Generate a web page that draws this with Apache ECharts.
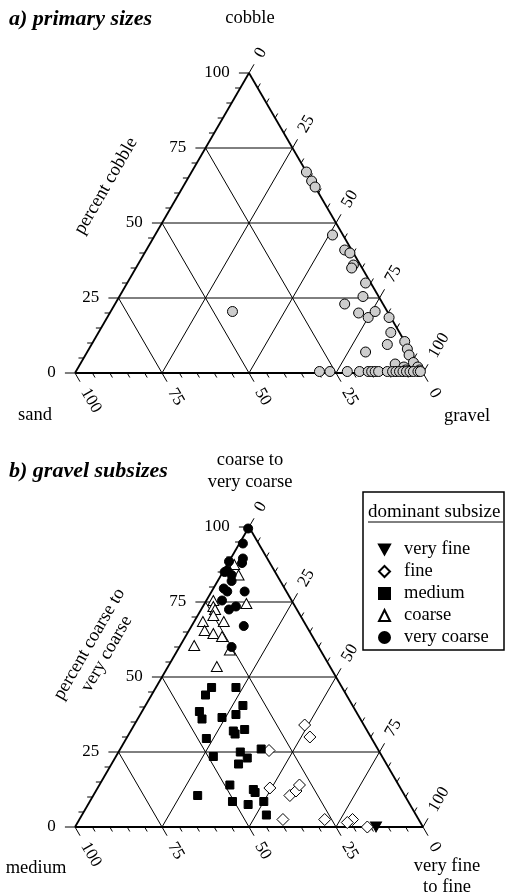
<!DOCTYPE html>
<html>
<head>
<meta charset="utf-8">
<script src="https://cdn.jsdelivr.net/npm/echarts@6/dist/echarts.min.js"></script>
<style>
html, body { margin: 0; padding: 0; background: #fff; }
#main { width: 507px; height: 894px; }
</style>
</head>
<body>
<div id="main"></div>
<script>
// a) primary sizes: percent cobble (top corner) and percent gravel (right corner), sand is the rest
var aCobble = [67, 64, 62, 46, 41, 40, 36, 35, 30, 25.5, 23, 20, 18.5, 20.5, 18.5, 13.5, 9.5, 10.5, 8, 6, 7, 3, 2, 3.5, 1, 2, 1, 20.5,
  0.5, 0.5, 0.5, 0.5, 0.5, 0.5, 0.5, 0.5, 0.5, 0.5, 0.5, 0.5, 0.5, 0.5, 0.5, 0.5, 0.5, 0.5];
var aGravel = [33, 36, 38, 51, 57, 59, 62, 62, 68.5, 70, 66, 71.5, 75, 76, 81, 84, 85, 89.5, 91.5, 93, 80, 90.5, 93.5, 95.5, 94.5, 97.5, 98.5, 35,
  70, 73, 78, 81.5, 84, 85, 86, 87, 89.5, 91, 92, 93, 94, 95, 96, 97, 98.3, 99];

// b) gravel subsizes: percent coarse to very coarse (top) and very fine to fine (right), medium is the rest
var subsizes = ['very fine', 'fine', 'medium', 'coarse', 'very coarse'];
var vfTop = [0];
var vfRight = [86.5];
var fineTop = [34, 30, 25.5, 13, 10.5, 12, 14, 2.5, 2.5, 2.5, 1.5, 0];
var fineRight = [49, 52.5, 43, 49.5, 56.5, 57.5, 57.5, 58.5, 70.5, 78.5, 77.5, 84];
var medTop = [46.5, 44, 46.5, 38.5, 36, 40.5, 37.5, 36.5, 32, 31, 32.5, 29.5, 23.5, 25, 23, 26, 21, 14, 12.5, 11.5, 10.5, 8.5, 7.5, 8.5, 4];
var medRight = [16, 15.5, 23, 16.5, 18.5, 28, 27.5, 24, 29.5, 30.5, 32.5, 23, 28, 35, 38, 40.5, 36.5, 37.5, 45, 46, 30, 41, 46, 50, 53];
var coarseTop = [87.5, 84, 75.5, 74.5, 73.5, 72.5, 70.5, 68.5, 68.5, 65.5, 64.5, 63.5, 60.5, 59, 53.5];
var coarseRight = [2, 5, 2, 12, 3, 4, 4.5, 2.5, 8.5, 4.5, 7.5, 10.5, 4, 15, 14];
var vcTop = [99.5, 94.5, 88.5, 89.5, 88, 85.5, 85, 84, 82, 79.5, 78.5, 78.5, 75.5, 73.5, 72.5, 67, 60];
var vcRight = [0, 1, 0, 3.5, 4, 1, 0.5, 3, 4, 3, 4.5, 9.5, 4.5, 9.5, 8, 15, 15];

var tickLabels = [0, 25, 50, 75, 100];
var gridLines = [25, 50, 75];
var minorStep = 5;

var FONT = '"Liberation Serif", "Times New Roman", serif';

// ternary -> x/y of the hidden cartesian axes (x 0..100, y 0..100)
function tern(top, right) { return [right + top / 2, top]; }
function pts(tops, rights) {
  return tops.map(function (t, i) { return tern(t, rights[i]); });
}

// frame, inner grid and ticks as segments [x1, y1, x2, y2, width]
function frameSegs() {
  var s = [];
  function seg(a, b, w) { s.push([a[0], a[1], b[0], b[1], w]); }
  seg(tern(0, 0), tern(0, 100), 1.8);
  seg(tern(0, 100), tern(100, 0), 1.8);
  seg(tern(100, 0), tern(0, 0), 1.8);
  gridLines.forEach(function (v) {
    seg(tern(v, 0), tern(v, 100 - v), 1);
    seg(tern(0, v), tern(100 - v, v), 1);
    seg(tern(0, 100 - v), tern(100 - v, 0), 1);
  });
  for (var v = 0; v <= 100; v += minorStep) {
    var k = (v % 25 === 0) ? 2.9 : 1.5;
    seg(tern(v, 0), tern(v, -k), 1);
    seg(tern(0, 100 - v), tern(-k, 100 - v + k), 1);
    seg(tern(100 - v, v), tern(100 - v + k, v), 1);
  }
  return s;
}

function labelItems() {
  var L = [];
  var k = 5.5;
  tickLabels.forEach(function (v) {
    L.push({ pos: tern(v, -k), text: String(v), rot: 0, align: 'right' });
    L.push({ pos: tern(-k, 100 - v + k), text: String(v), rot: -60, align: 'left' });
    L.push({ pos: tern(100 - v + k, v), text: String(v), rot: 60, align: 'left' });
  });
  return L;
}

function renderSeg(params, api) {
  var p1 = api.coord([api.value(0), api.value(1)]);
  var p2 = api.coord([api.value(2), api.value(3)]);
  return {
    type: 'line',
    shape: { x1: p1[0], y1: p1[1], x2: p2[0], y2: p2[1] },
    style: { stroke: '#000', lineWidth: api.value(4) }
  };
}

var labs = labelItems();
function renderLabel(params, api) {
  var it = labs[params.dataIndex];
  var p = api.coord(it.pos);
  return {
    type: 'text', x: p[0], y: p[1], rotation: it.rot * Math.PI / 180,
    style: {
      text: it.text, font: '17px ' + FONT, fill: '#000',
      align: it.align, verticalAlign: 'middle', textAlign: it.align, textVerticalAlign: 'middle'
    }
  };
}

function txt(text, x, y, font, align, rot, lh) {
  return {
    type: 'text', x: x, y: y, rotation: (rot || 0) * Math.PI / 180, z: 10,
    style: {
      text: text, font: font, fill: '#000', lineHeight: lh || 20,
      align: align || 'center', verticalAlign: 'middle',
      textAlign: align || 'center', textVerticalAlign: 'middle'
    }
  };
}

var segs = frameSegs();
var series = [];
[0, 1].forEach(function (g) {
  series.push({
    type: 'custom', xAxisIndex: g, yAxisIndex: g, clip: false, silent: true, z: 1,
    renderItem: renderSeg, data: segs
  });
  series.push({
    type: 'custom', xAxisIndex: g, yAxisIndex: g, clip: false, silent: true, z: 1,
    renderItem: renderLabel, data: labs.map(function (l) { return l.pos; })
  });
});

series.push({
  name: 'primary', type: 'scatter', xAxisIndex: 0, yAxisIndex: 0, clip: false, z: 3,
  symbol: 'circle', symbolSize: 10,
  itemStyle: { color: '#cdcdcd', borderColor: '#000', borderWidth: 1, opacity: 1 },
  data: pts(aCobble, aGravel)
});

var bTops = [vfTop, fineTop, medTop, coarseTop, vcTop];
var bRights = [vfRight, fineRight, medRight, coarseRight, vcRight];
var bSymbols = ['path://M0,0 L10,0 L5,9 Z', 'diamond', 'rect', 'triangle', 'circle'];
var bSizes = [[11, 10], 12, 8, [11, 10], 9];
var bFill = ['#000', '#fff', '#000', '#fff', '#000'];
subsizes.forEach(function (name, i) {
  series.push({
    name: name, type: 'scatter', xAxisIndex: 1, yAxisIndex: 1, clip: false, z: 3,
    symbol: bSymbols[i], symbolSize: bSizes[i],
    itemStyle: { color: bFill[i], borderColor: '#000', borderWidth: 1, opacity: 1 },
    data: pts(bTops[i], bRights[i])
  });
});

var chart = echarts.init(document.getElementById('main'));
chart.setOption({
  animation: false,
  backgroundColor: '#fff',
  grid: [
    { left: 75, top: 73, width: 348, height: 300 },
    { left: 75, top: 527, width: 348, height: 300 }
  ],
  xAxis: [
    { type: 'value', gridIndex: 0, min: 0, max: 100, show: false },
    { type: 'value', gridIndex: 1, min: 0, max: 100, show: false }
  ],
  yAxis: [
    { type: 'value', gridIndex: 0, min: 0, max: 100, show: false },
    { type: 'value', gridIndex: 1, min: 0, max: 100, show: false }
  ],
  legend: {
    data: subsizes, orient: 'vertical', left: 373, top: 535,
    itemWidth: 11, itemHeight: 11, itemGap: 3, selectedMode: false,
    textStyle: { fontFamily: FONT, fontSize: 18.5, color: '#000', padding: [0, 0, 0, 9] }
  },
  graphic: [
    txt('a) primary sizes', 9, 19, 'bold italic 22px ' + FONT, 'left'),
    txt('cobble', 250, 18, '18.5px ' + FONT),
    txt('percent cobble', 106, 186, '18.5px ' + FONT, 'center', 60),
    txt('sand', 35, 415, '18.5px ' + FONT),
    txt('gravel', 467, 416, '18.5px ' + FONT),
    txt('b) gravel subsizes', 9, 471, 'bold italic 22px ' + FONT, 'left'),
    txt('coarse to\nvery coarse', 250, 471, '18.5px ' + FONT, 'center', 0, 22),
    txt('percent coarse to\nvery coarse', 98, 649, '18.5px ' + FONT, 'center', 60, 20),
    txt('medium', 36, 868, '18.5px ' + FONT),
    txt('very fine\nto fine', 447, 877, '18.5px ' + FONT, 'center', 0, 21),
    {
      type: 'rect', z: 10, shape: { x: 363, y: 492, width: 141, height: 158 },
      style: { fill: 'transparent', stroke: '#000', lineWidth: 1.5 }
    },
    txt('dominant subsize', 368, 512, '19px ' + FONT, 'left'),
    {
      type: 'line', z: 10, shape: { x1: 368, y1: 522, x2: 503, y2: 522 },
      style: { stroke: '#000', lineWidth: 1 }
    }
  ],
  series: series
});
</script>
</body>
</html>
